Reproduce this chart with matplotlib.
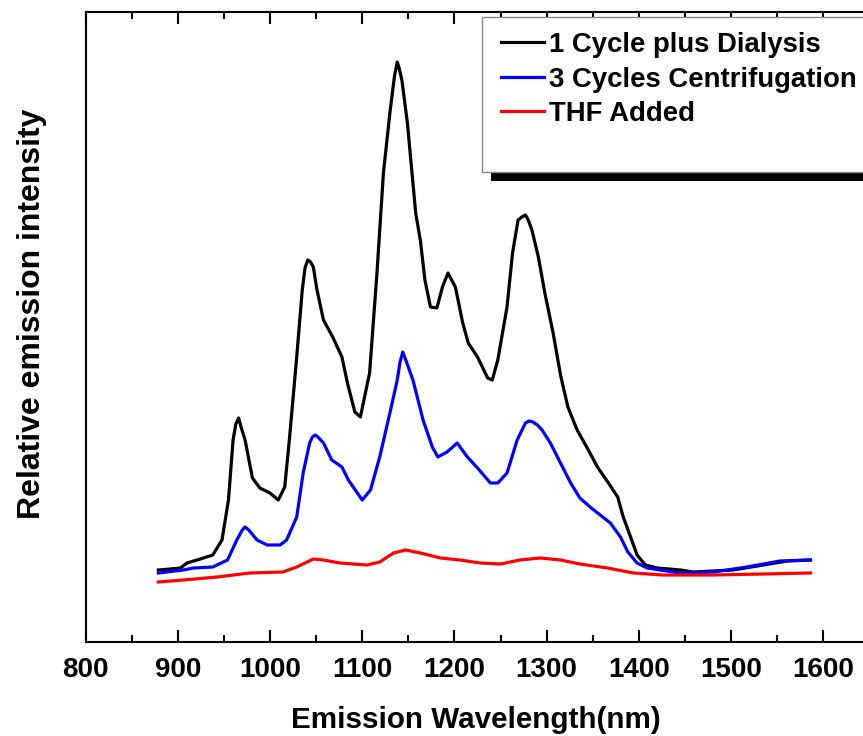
import matplotlib
matplotlib.use("Agg")
import matplotlib.pyplot as plt
from matplotlib.patches import Rectangle
from matplotlib.ticker import MultipleLocator

plt.rcParams['font.family'] = ['Liberation Sans', 'DejaVu Sans']
plt.rcParams['font.weight'] = 'bold'

# emission spectra (wavelength in nm, intensity in arbitrary units)
wl_dialysis = [879, 892, 903, 910, 921, 938, 948, 955, 960, 963, 966, 969, 973, 981, 989,
               1000, 1009, 1016, 1021, 1029, 1035, 1038, 1041, 1044, 1047, 1051, 1058,
               1068, 1078, 1084, 1092, 1098, 1108, 1116, 1123, 1130, 1135, 1138, 1140,
               1143, 1149, 1154, 1158, 1163, 1168, 1174, 1181, 1187, 1193, 1201, 1209,
               1215, 1225, 1236, 1241, 1247, 1257, 1263, 1269, 1273, 1277, 1280, 1284,
               1291, 1298, 1307, 1315, 1323, 1333, 1344, 1355, 1367, 1377, 1383, 1391,
               1398, 1407, 1420, 1445, 1459, 1502, 1535, 1561, 1586]
int_dialysis = [72, 73, 74, 79, 82, 87, 102, 142, 202, 218, 224, 214, 202, 164, 154,
                149, 142, 155, 202, 285, 352, 374, 382, 380, 375, 352, 322,
                305, 285, 259, 230, 225, 269, 369, 469, 529, 566, 580, 574,
                562, 519, 469, 429, 402, 362, 335, 334, 355, 369, 355, 319,
                299, 285, 264, 262, 282, 335, 389, 422, 425, 427, 422, 412,
                385, 349, 309, 267, 235, 212, 194, 175, 159, 145, 125, 105,
                87, 77, 74, 72, 70, 72, 77, 81, 82]

wl_centrif = [879, 906, 917, 938, 954, 964, 970, 973, 977, 986, 997, 1011, 1018, 1029,
              1036, 1043, 1046, 1049, 1052, 1058, 1067, 1078, 1085, 1100, 1109, 1119,
              1130, 1138, 1141, 1144, 1148, 1155, 1166, 1176, 1182, 1192, 1203, 1214,
              1225, 1239, 1247, 1257, 1268, 1277, 1281, 1285, 1290, 1295, 1304, 1315,
              1326, 1336, 1347, 1358, 1369, 1380, 1388, 1398, 1409, 1423, 1445, 1481,
              1517, 1553, 1586]
int_centrif = [69, 72, 74, 75, 82, 102, 112, 115, 112, 102, 97, 97, 102, 125,
               169, 199, 205, 207, 205, 199, 182, 175, 162, 142, 152, 185,
               229, 262, 280, 290, 280, 262, 222, 195, 185, 190, 199, 185,
               174, 159, 159, 169, 202, 219, 221, 220, 217, 212, 199, 179,
               159, 144, 135, 127, 119, 105, 90, 79, 74, 72, 69, 70,
               75, 81, 82]

wl_thf = [879, 906, 943, 978, 1014, 1029, 1047, 1058, 1076, 1105, 1119, 1134, 1147,
          1163, 1185, 1206, 1228, 1250, 1271, 1293, 1315, 1336, 1366, 1394, 1426,
          1481, 1535, 1586]
int_thf = [60, 62, 65, 69, 70, 75, 83, 82, 79, 77, 80, 89, 92,
           89, 84, 82, 79, 78, 82, 84, 82, 78, 74, 69, 67,
           67, 68, 69]

labels = ['1 Cycle plus Dialysis', '3 Cycles Centrifugation', 'THF Added']
colors = ['black', 'blue', 'red']

W, H = 863, 736
fig = plt.figure(figsize=(W / 100, H / 100), dpi=100)
ax = fig.add_axes([85.5 / W, 94 / H, 784 / W, 630 / H])

for x, y, c, lab in zip([wl_dialysis, wl_centrif, wl_thf],
                        [int_dialysis, int_centrif, int_thf], colors, labels):
    ax.plot(x, y, color=c, lw=2.3, label=lab, solid_joinstyle='round')

ax.set_xlim(800, 1650)
ax.set_ylim(0, 630)
ax.xaxis.set_major_locator(MultipleLocator(100))
ax.xaxis.set_minor_locator(MultipleLocator(50))
ax.set_yticks([])
ax.tick_params(axis='x', which='both', direction='in', top=True, width=1.5,
               labelsize=20, pad=11)
ax.tick_params(axis='x', which='major', length=8.5)
ax.tick_params(axis='x', which='minor', length=5)
for sp in ax.spines.values():
    sp.set_linewidth(1.5)

fig.text(476 / W, 1 - 720 / H, 'Emission Wavelength(nm)', fontsize=21.3,
         ha='center', va='center')
fig.text(32 / W, 1 - 314 / H, 'Relative emission intensity', fontsize=23,
         ha='center', va='center', rotation=90)

# legend box with a drop shadow
shadow = Rectangle((491 / W, 1 - 181 / H), 500 / W, 155 / H, transform=fig.transFigure,
                   facecolor='black', edgecolor='none', zorder=5)
frame = Rectangle((482 / W, 1 - 172 / H), 500 / W, 155 / H, transform=fig.transFigure,
                  facecolor='white', edgecolor='#888888', lw=1, zorder=6)
fig.add_artist(shadow)
fig.add_artist(frame)
leg = fig.legend(loc='upper left', bbox_to_anchor=(501 / W, 1 - 32 / H), frameon=False,
                 fontsize=19.8, handlelength=1.55, handletextpad=0.2, labelspacing=0.31,
                 borderpad=0, borderaxespad=0)
leg.set_zorder(7)

fig.savefig('out.png', dpi=100)
